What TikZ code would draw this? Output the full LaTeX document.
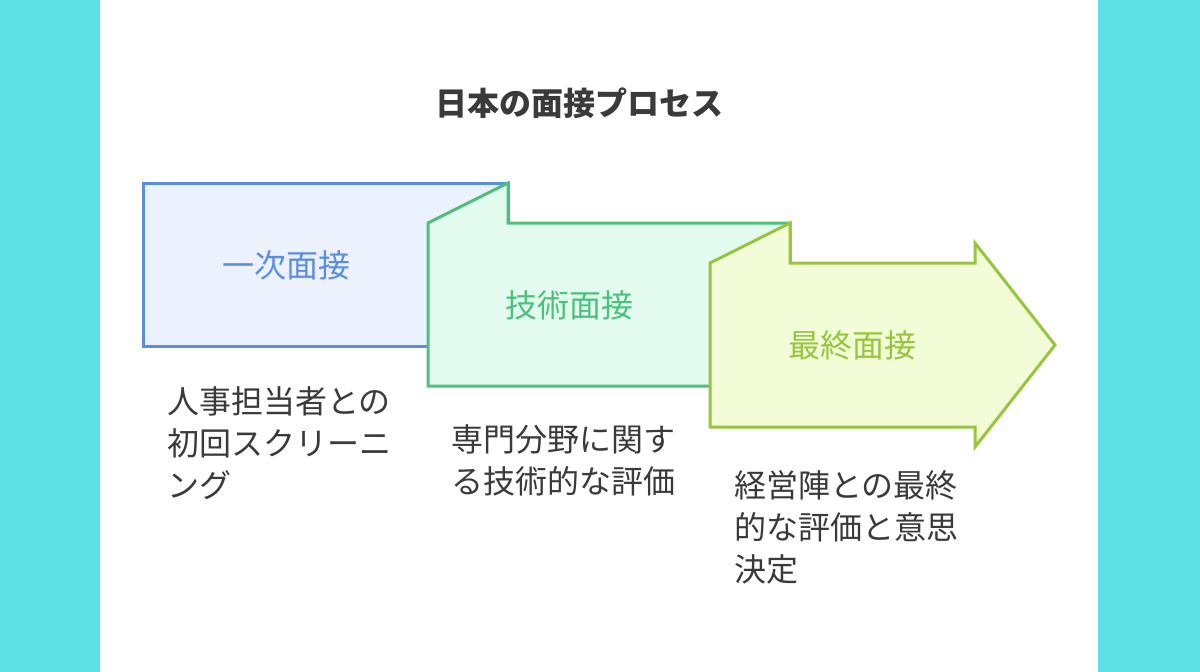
\documentclass[tikz,border=0pt]{standalone}
\usepackage{fontspec}
\newfontfamily\cjk{Noto Sans CJK JP}
\definecolor{bstroke}{HTML}{5B8DE0}\definecolor{bfill}{HTML}{ECF2FD}
\definecolor{gstroke}{HTML}{4CC17C}\definecolor{gfill}{HTML}{E3FBEE}
\definecolor{ostroke}{HTML}{97C53D}\definecolor{ofill}{HTML}{F2FDD8}
\definecolor{cyanbg}{HTML}{5EE0E4}\definecolor{txt}{HTML}{3A3A3A}
\begin{document}
\begin{tikzpicture}[x=1pt,y=-1pt,
 shp/.style={line width=3pt,line join=miter},
 lbl/.style={font=\cjk\fontsize{32}{38}\selectfont},
 desc/.style={font=\cjk\fontsize{32}{42}\selectfont,text=txt,align=left,anchor=north west,inner sep=0pt}]
\useasboundingbox (0,0) rectangle (1200,672);
\fill[cyanbg] (0,0) rectangle (1200,672);
\fill[white] (100,0) rectangle (1098,672);
\node[font=\cjk\bfseries\fontsize{32}{38}\selectfont,text=txt] (title) at (579,103) {日本の面接プロセス};
\draw[shp,draw=bstroke,fill=bfill] (143,183) rectangle (508,346);
\draw[shp,draw=gstroke,fill=gfill] (428,223)--(508,183)--(508,223)--(790,223)--(790,386)--(428,386)--cycle;
\draw[shp,draw=ostroke,fill=ofill] (710,263)--(790,223)--(790,263)--(975,263)--(975,243)--(1055,345)--(975,447)--(975,427)--(710,427)--cycle;
\node[lbl,text=bstroke] (l1) at (286,265) {一次面接};
\node[lbl,text=gstroke] (l2) at (569,305) {技術面接};
\node[lbl,text=ostroke] (l3) at (852,345) {最終面接};
\node[desc] (d1) at (167,386) {人事担当者との\\初回スクリーニ\\ング};
\node[desc] (d2) at (451,424) {専門分野に関す\\る技術的な評価};
\node[desc] (d3) at (734,470) {経営陣との最終\\的な評価と意思\\決定};
\end{tikzpicture}
\end{document}
